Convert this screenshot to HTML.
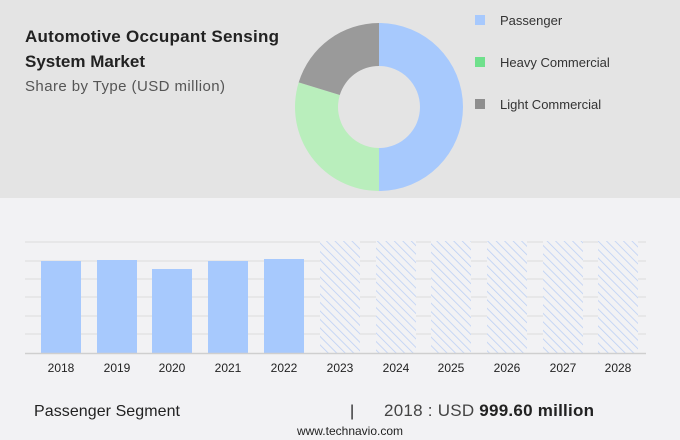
<!DOCTYPE html>
<html><head><meta charset="utf-8"><style>
body{margin:0;width:680px;height:440px;overflow:hidden;background:#f2f2f4;font-family:"Liberation Sans",sans-serif}
</style></head><body>
<svg width="680" height="440" xmlns="http://www.w3.org/2000/svg" style="position:absolute;left:0;top:0">
<defs><pattern id="h" width="6" height="6" patternUnits="userSpaceOnUse" patternTransform="rotate(-45)"><rect width="6" height="6" fill="#f2f2f4"/><line x1="0" y1="0" x2="0" y2="6" stroke="#bcd0f5" stroke-width="1.6"/></pattern></defs>
<rect x="0" y="0" width="680" height="198" fill="#e4e4e4"/>
<text x="25" y="42" font-size="17" font-weight="bold" fill="#222" textLength="254">Automotive Occupant Sensing</text>
<text x="25" y="67" font-size="17" font-weight="bold" fill="#222">System Market</text>
<text x="25" y="91" font-size="15" fill="#555" textLength="200">Share by Type (USD million)</text>
<path d="M379,23 A84 84 0 0 1 379,191 L379,148 A41 41 0 0 0 379,66 Z" fill="#a7c9fd"/>
<path d="M379,191 A84 84 0 0 1 298.7,82.4 L339.8,95 A41 41 0 0 0 379,148 Z" fill="#b9eebc"/>
<path d="M298.7,82.4 A84 84 0 0 1 379,23 L379,66 A41 41 0 0 0 339.8,95 Z" fill="#9a9a9a"/>
<rect x="475" y="15" width="10" height="10" fill="#a7c9fd"/>
<text x="500" y="25" font-size="13" fill="#333">Passenger</text>
<rect x="475" y="57" width="10" height="10" fill="#6fe08c"/>
<text x="500" y="67" font-size="13" fill="#333">Heavy Commercial</text>
<rect x="475" y="99" width="10" height="10" fill="#8e8e8e"/>
<text x="500" y="109" font-size="13" fill="#333">Light Commercial</text>
<g stroke="#dcdcdc" stroke-width="1">
<line x1="25" y1="242" x2="646" y2="242"/><line x1="25" y1="261" x2="646" y2="261"/><line x1="25" y1="279" x2="646" y2="279"/><line x1="25" y1="297" x2="646" y2="297"/><line x1="25" y1="316" x2="646" y2="316"/><line x1="25" y1="334" x2="646" y2="334"/>
</g>
<g fill="#a7c9fd">
<rect x="41" y="261" width="40" height="92"/><rect x="97" y="260" width="40" height="93"/><rect x="152" y="269" width="40" height="84"/><rect x="208" y="261" width="40" height="92"/><rect x="264" y="259" width="40" height="94"/>
</g>
<g fill="url(#h)">
<rect x="320" y="241" width="40" height="112"/><rect x="376" y="241" width="40" height="112"/><rect x="431" y="241" width="40" height="112"/><rect x="487" y="241" width="40" height="112"/><rect x="543" y="241" width="40" height="112"/><rect x="598" y="241" width="40" height="112"/>
</g>
<line x1="25" y1="353.5" x2="646" y2="353.5" stroke="#cfcfcf" stroke-width="1.5"/>
<g font-size="12" fill="#222" text-anchor="middle">
<text x="61" y="372">2018</text><text x="117" y="372">2019</text><text x="172" y="372">2020</text><text x="228" y="372">2021</text><text x="284" y="372">2022</text><text x="340" y="372">2023</text><text x="396" y="372">2024</text><text x="451" y="372">2025</text><text x="507" y="372">2026</text><text x="563" y="372">2027</text><text x="618" y="372">2028</text>
</g>
<text x="34" y="416" font-size="16" fill="#222" textLength="146">Passenger Segment</text>
<text x="350" y="416" font-size="16" fill="#222">|</text>
<text x="384" y="416" font-size="17" fill="#444" textLength="210">2018 : USD <tspan font-weight="bold" fill="#222">999.60 million</tspan></text>
<text x="350" y="435" font-size="12" fill="#222" text-anchor="middle">www.technavio.com</text>
</svg>
</body></html>
